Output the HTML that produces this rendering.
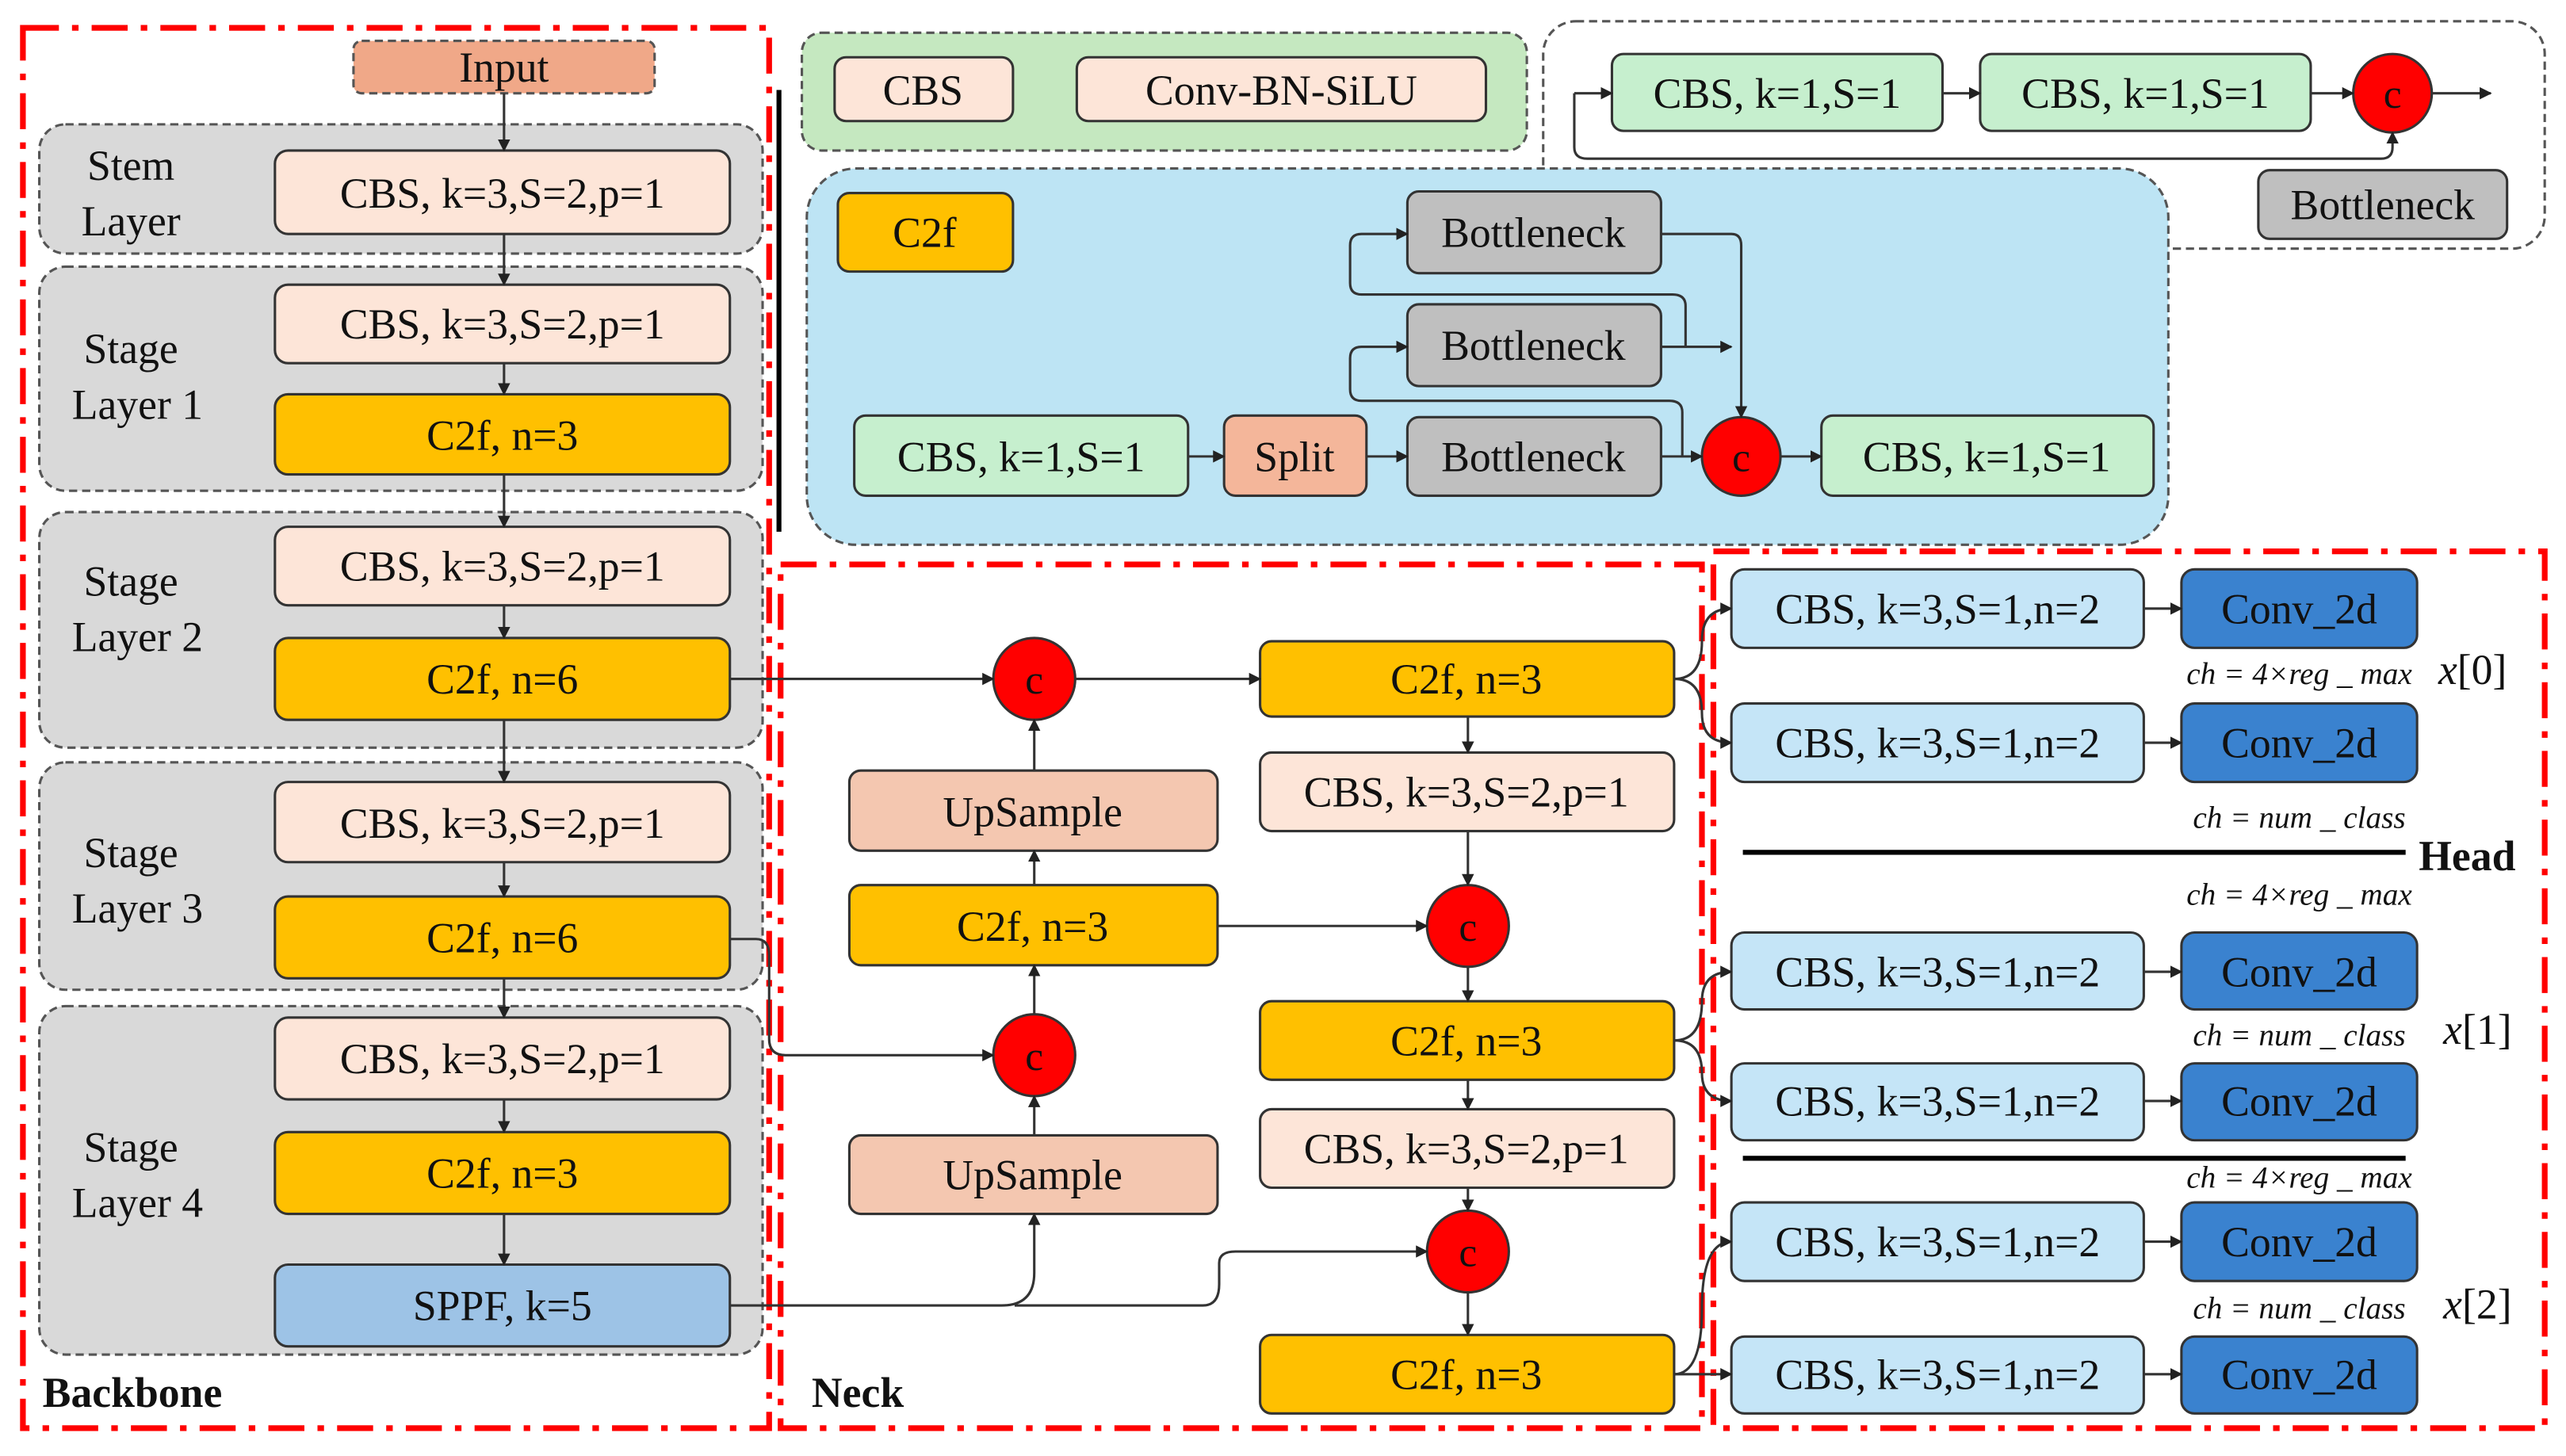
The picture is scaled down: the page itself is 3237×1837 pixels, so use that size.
<!DOCTYPE html>
<html><head><meta charset="utf-8"><style>
html,body{margin:0;padding:0;background:#fff;}
svg{display:block;}
svg text{font-family:"Liberation Serif","Times New Roman","DejaVu Serif",serif;fill:#111;}
</style></head><body>
<svg width="3237" height="1837" viewBox="0 0 1568 890" preserveAspectRatio="none" xmlns="http://www.w3.org/2000/svg" font-family="Liberation Serif, DejaVu Serif, serif">
<defs>
<marker id="a" viewBox="0 0 10 10" refX="9" refY="5" markerWidth="5" markerHeight="5" orient="auto"><path d="M0,0L10,5L0,10z" fill="#222"/></marker>
</defs>
<g fill="none" stroke="#f00" stroke-width="3.5" stroke-dasharray="22,8,4,8">
<rect x="14" y="17" width="456" height="856"/>
<rect x="477" y="345" width="563" height="528"/>
<rect x="1047" y="337" width="508" height="536"/>
</g>
<line x1="476" y1="55" x2="476" y2="325" stroke="#000" stroke-width="3"/>
<g stroke="#555" stroke-width="1.5" stroke-dasharray="5,3">
<rect x="24" y="76" width="442" height="79" rx="16" fill="#d9d9d9"/>
<rect x="24" y="163" width="442" height="137" rx="16" fill="#d9d9d9"/>
<rect x="24" y="313" width="442" height="144" rx="16" fill="#d9d9d9"/>
<rect x="24" y="466" width="442" height="139" rx="16" fill="#d9d9d9"/>
<rect x="24" y="615" width="442" height="213" rx="16" fill="#d9d9d9"/>
<rect x="216" y="25" width="184" height="32" rx="5" fill="#f0a888"/>
<rect x="490" y="20" width="443" height="72" rx="12" fill="#c5e8c0"/>
<rect x="943" y="13" width="612" height="139" rx="20" fill="#fff"/>
<rect x="493" y="103" width="832" height="230" rx="30" fill="#bde4f4"/>
</g>
<g font-size="26" text-anchor="middle">
<text x="308" y="50">Input</text>
<text x="80" y="110">Stem</text><text x="80" y="144">Layer</text>
<text x="80" y="222">Stage</text><text x="84" y="256">Layer 1</text>
<text x="80" y="364">Stage</text><text x="84" y="398">Layer 2</text>
<text x="80" y="530">Stage</text><text x="84" y="564">Layer 3</text>
<text x="80" y="710">Stage</text><text x="84" y="744">Layer 4</text>
</g>
<g stroke="#333" stroke-width="1.5">
<rect x="168" y="92" width="278" height="51" rx="8" fill="#fde5d8"/>
<rect x="168" y="174" width="278" height="48" rx="8" fill="#fde5d8"/>
<rect x="168" y="241" width="278" height="49" rx="8" fill="#ffc000"/>
<rect x="168" y="322" width="278" height="48" rx="8" fill="#fde5d8"/>
<rect x="168" y="390" width="278" height="50" rx="8" fill="#ffc000"/>
<rect x="168" y="478" width="278" height="49" rx="8" fill="#fde5d8"/>
<rect x="168" y="548" width="278" height="50" rx="8" fill="#ffc000"/>
<rect x="168" y="622" width="278" height="50" rx="8" fill="#fde5d8"/>
<rect x="168" y="692" width="278" height="50" rx="8" fill="#ffc000"/>
<rect x="168" y="773" width="278" height="50" rx="8" fill="#9dc3e6"/>
<rect x="510" y="35" width="109" height="39" rx="7" fill="#fde5d8"/>
<rect x="658" y="35" width="250" height="39" rx="7" fill="#fde5d8"/>
<rect x="985" y="33" width="202" height="47" rx="7" fill="#c6efce"/>
<rect x="1210" y="33" width="202" height="47" rx="7" fill="#c6efce"/>
<rect x="1380" y="104" width="152" height="42" rx="7" fill="#bfbfbf"/>
<rect x="512" y="118" width="107" height="48" rx="7" fill="#ffc000"/>
<rect x="860" y="117" width="155" height="50" rx="7" fill="#bfbfbf"/>
<rect x="860" y="186" width="155" height="50" rx="7" fill="#bfbfbf"/>
<rect x="860" y="255" width="155" height="48" rx="7" fill="#bfbfbf"/>
<rect x="522" y="254" width="204" height="49" rx="7" fill="#c6efce"/>
<rect x="748" y="254" width="87" height="49" rx="7" fill="#f4b69a"/>
<rect x="1113" y="254" width="203" height="49" rx="7" fill="#c6efce"/>
<rect x="770" y="392" width="253" height="46" rx="7" fill="#ffc000"/>
<rect x="770" y="460" width="253" height="48" rx="7" fill="#fde5d8"/>
<rect x="770" y="612" width="253" height="48" rx="7" fill="#ffc000"/>
<rect x="770" y="678" width="253" height="48" rx="7" fill="#fde5d8"/>
<rect x="770" y="816" width="253" height="48" rx="7" fill="#ffc000"/>
<rect x="519" y="471" width="225" height="49" rx="7" fill="#f4c7b0"/>
<rect x="519" y="541" width="225" height="49" rx="7" fill="#ffc000"/>
<rect x="519" y="694" width="225" height="48" rx="7" fill="#f4c7b0"/>
<rect x="1058" y="348" width="252" height="48" rx="8" fill="#c5e5f7"/>
<rect x="1058" y="430" width="252" height="48" rx="8" fill="#c5e5f7"/>
<rect x="1058" y="570" width="252" height="47" rx="8" fill="#c5e5f7"/>
<rect x="1058" y="650" width="252" height="47" rx="8" fill="#c5e5f7"/>
<rect x="1058" y="735" width="252" height="48" rx="8" fill="#c5e5f7"/>
<rect x="1058" y="817" width="252" height="47" rx="8" fill="#c5e5f7"/>
<rect x="1333" y="348" width="144" height="48" rx="8" fill="#3a82cf"/>
<rect x="1333" y="430" width="144" height="48" rx="8" fill="#3a82cf"/>
<rect x="1333" y="570" width="144" height="47" rx="8" fill="#3a82cf"/>
<rect x="1333" y="650" width="144" height="47" rx="8" fill="#3a82cf"/>
<rect x="1333" y="735" width="144" height="48" rx="8" fill="#3a82cf"/>
<rect x="1333" y="817" width="144" height="47" rx="8" fill="#3a82cf"/>
</g>
<g fill="#f00" stroke="#333" stroke-width="1.5">
<circle cx="1462" cy="57" r="24"/><circle cx="1064" cy="279" r="24"/>
<circle cx="632" cy="415" r="25"/><circle cx="897" cy="566" r="25"/>
<circle cx="632" cy="645" r="25"/><circle cx="897" cy="765" r="25"/>
</g>
<g font-size="25" text-anchor="middle">
<text x="1462" y="66">c</text><text x="1064" y="288">c</text><text x="632" y="424">c</text>
<text x="897" y="575">c</text><text x="632" y="654">c</text><text x="897" y="774">c</text>
</g>
<g fill="none" stroke="#333" stroke-width="1.5" marker-end="url(#a)">
<path d="M308,57V92"/><path d="M308,143V174"/><path d="M308,222V241"/><path d="M308,290V322"/>
<path d="M308,370V390"/><path d="M308,440V478"/><path d="M308,527V548"/><path d="M308,598V622"/>
<path d="M308,672V692"/><path d="M308,742V773"/>
<path d="M1187,57H1210"/><path d="M1412,57H1438"/><path d="M1486,57H1522"/>
<path d="M962,57H985"/>
<path d="M962,57V90Q962,97 970,97H1455Q1462,97 1462,90V81"/>
<path d="M726,279H748"/><path d="M835,279H860"/><path d="M1015,279H1040"/><path d="M1088,279H1113"/>
<path d="M1015,143H1058Q1064,143 1064,150V255"/>
<path d="M1015,212H1058"/>
<path d="M1028,279V252Q1028,245 1020,245H832Q825,245 825,238V219Q825,212 832,212H860"/>
<path d="M1030,212V187Q1030,180 1022,180H832Q825,180 825,173V150Q825,143 832,143H860"/>
<path d="M446,415H607"/><path d="M657,415H770"/>
<path d="M632,471V440"/><path d="M632,541V520"/><path d="M632,620V590"/><path d="M632,694V670"/>
<path d="M446,574H462Q470,574 470,584V635Q470,645 480,645H607"/>
<path d="M446,798H612Q632,798 632,778V742"/>
<path d="M620,798H735Q745,798 745,785V772Q745,765 755,765H872"/>
<path d="M744,566H872"/>
<path d="M897,438V460"/><path d="M897,508V541"/><path d="M897,591V612"/><path d="M897,660V678"/>
<path d="M897,726V740"/><path d="M897,790V816"/>
<path d="M1023,415Q1040,415 1040,392Q1040,372 1058,372"/><path d="M1023,415Q1040,415 1040,436Q1040,454 1058,454"/>
<path d="M1023,636Q1040,636 1040,612Q1040,594 1058,594"/><path d="M1023,636Q1040,636 1040,656Q1040,673 1058,673"/>
<path d="M1023,840Q1040,840 1040,800Q1040,759 1058,759"/><path d="M1023,840H1058"/>
<path d="M1310,372H1333"/><path d="M1310,454H1333"/><path d="M1310,594H1333"/><path d="M1310,673H1333"/><path d="M1310,759H1333"/><path d="M1310,840H1333"/>
</g>
<line x1="1065" y1="521" x2="1470" y2="521" stroke="#000" stroke-width="3"/>
<line x1="1065" y1="708" x2="1470" y2="708" stroke="#000" stroke-width="3"/>
<g font-size="26" text-anchor="middle">
<text x="307" y="127">CBS, k=3,S=2,p=1</text>
<text x="307" y="207">CBS, k=3,S=2,p=1</text>
<text x="307" y="275">C2f, n=3</text>
<text x="307" y="355">CBS, k=3,S=2,p=1</text>
<text x="307" y="424">C2f, n=6</text>
<text x="307" y="512">CBS, k=3,S=2,p=1</text>
<text x="307" y="582">C2f, n=6</text>
<text x="307" y="656">CBS, k=3,S=2,p=1</text>
<text x="307" y="726">C2f, n=3</text>
<text x="307" y="807">SPPF, k=5</text>
<text x="564" y="64">CBS</text>
<text x="783" y="64">Conv-BN-SiLU</text>
<text x="1086" y="66">CBS, k=1,S=1</text>
<text x="1311" y="66">CBS, k=1,S=1</text>
<text x="1456" y="134">Bottleneck</text>
<text x="565" y="151">C2f</text>
<text x="937" y="151">Bottleneck</text>
<text x="937" y="220">Bottleneck</text>
<text x="937" y="288">Bottleneck</text>
<text x="624" y="288">CBS, k=1,S=1</text>
<text x="791" y="288">Split</text>
<text x="1214" y="288">CBS, k=1,S=1</text>
<text x="896" y="424">C2f, n=3</text>
<text x="896" y="493">CBS, k=3,S=2,p=1</text>
<text x="896" y="645">C2f, n=3</text>
<text x="896" y="711">CBS, k=3,S=2,p=1</text>
<text x="896" y="849">C2f, n=3</text>
<text x="631" y="505">UpSample</text>
<text x="631" y="575">C2f, n=3</text>
<text x="631" y="727">UpSample</text>
<text x="1184" y="381">CBS, k=3,S=1,n=2</text>
<text x="1184" y="463">CBS, k=3,S=1,n=2</text>
<text x="1184" y="603">CBS, k=3,S=1,n=2</text>
<text x="1184" y="682">CBS, k=3,S=1,n=2</text>
<text x="1184" y="768">CBS, k=3,S=1,n=2</text>
<text x="1184" y="849">CBS, k=3,S=1,n=2</text>
<text x="1405" y="381">Conv_2d</text>
<text x="1405" y="463">Conv_2d</text>
<text x="1405" y="603">Conv_2d</text>
<text x="1405" y="682">Conv_2d</text>
<text x="1405" y="768">Conv_2d</text>
<text x="1405" y="849">Conv_2d</text>
</g>
<g font-size="19" font-style="italic" text-anchor="middle">
<text x="1405" y="418">ch = 4×reg _ max</text>
<text x="1405" y="506">ch = num _ class</text>
<text x="1405" y="553">ch = 4×reg _ max</text>
<text x="1405" y="639">ch = num _ class</text>
<text x="1405" y="726">ch = 4×reg _ max</text>
<text x="1405" y="806">ch = num _ class</text>
</g>
<g font-size="26">
<text x="1490" y="418"><tspan font-style="italic">x</tspan>[0]</text>
<text x="1493" y="638"><tspan font-style="italic">x</tspan>[1]</text>
<text x="1493" y="806"><tspan font-style="italic">x</tspan>[2]</text>
</g>
<g font-size="26" font-weight="bold">
<text x="26" y="860">Backbone</text>
<text x="496" y="860">Neck</text>
<text x="1478" y="532">Head</text>
</g>
</svg>
</body></html>
